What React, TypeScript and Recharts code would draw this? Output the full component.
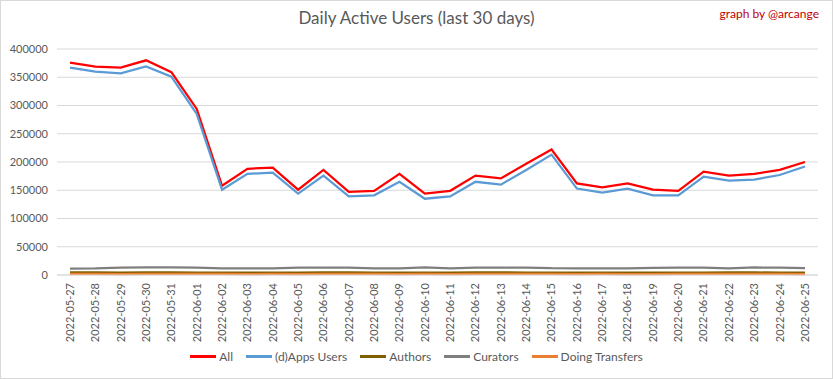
import { LineChart, Line, XAxis, YAxis, CartesianGrid } from 'recharts';

const dates = [
  '2022-05-27', '2022-05-28', '2022-05-29', '2022-05-30', '2022-05-31', '2022-06-01',
  '2022-06-02', '2022-06-03', '2022-06-04', '2022-06-05', '2022-06-06', '2022-06-07',
  '2022-06-08', '2022-06-09', '2022-06-10', '2022-06-11', '2022-06-12', '2022-06-13',
  '2022-06-14', '2022-06-15', '2022-06-16', '2022-06-17', '2022-06-18', '2022-06-19',
  '2022-06-20', '2022-06-21', '2022-06-22', '2022-06-23', '2022-06-24', '2022-06-25',
];

const allUsers = [
  376000, 369000, 367000, 380000, 359000, 294000, 158000, 188000, 190000, 151000,
  186000, 147000, 149000, 179000, 144000, 149000, 176000, 171000, 197000, 222000,
  162000, 155000, 162000, 151000, 149000, 183000, 176000, 179000, 186000, 200000,
];

const appsUsers = [
  367000, 360000, 357000, 369000, 351000, 285000, 151000, 179000, 181000, 144000,
  176000, 139000, 141000, 165000, 135000, 139000, 165000, 160000, 186000, 213000,
  153000, 146000, 153000, 141000, 141000, 174000, 167000, 169000, 177000, 192000,
];

const authors = [
  4600, 4500, 4200, 4700, 4600, 4400, 4300, 4400, 4200, 4100,
  4500, 4600, 4300, 4200, 4400, 4100, 4500, 4600, 4400, 4300,
  4200, 4300, 4100, 4000, 4400, 4200, 4600, 4500, 4300, 4200,
];

const curators = [
  11500, 11800, 13200, 13400, 13300, 13200, 11800, 11700, 11600, 13000,
  13200, 13100, 11900, 11800, 13300, 11900, 13000, 13200, 13100, 12000,
  11900, 11800, 11700, 12800, 13100, 13200, 11900, 13300, 13200, 12000,
];

const transfers = [
  1800, 1900, 1700, 2100, 2000, 1900, 1800, 1700, 1800, 1600,
  2000, 1900, 1800, 1700, 1900, 1600, 1800, 2000, 1900, 1800,
  1700, 1800, 1600, 1700, 1900, 1800, 2000, 1900, 1800, 1700,
];

const yTicks = [0, 50000, 100000, 150000, 200000, 250000, 300000, 350000, 400000];

const series = [
  { key: 'All', values: allUsers, color: '#ff0000' },
  { key: '(d)Apps Users', values: appsUsers, color: '#5b9bd5' },
  { key: 'Authors', values: authors, color: '#7f6000' },
  { key: 'Curators', values: curators, color: '#7f7f7f' },
  { key: 'Doing Transfers', values: transfers, color: '#ed7d31' },
];

const data = dates.map((d, i) => {
  const row: Record<string, string | number> = { date: d };
  series.forEach(s => { row[s.key] = s.values[i]; });
  return row;
});

const FONT = 'Lato, "Liberation Sans", sans-serif';
const TEXT = '#595959';

function DateTick({ x, y, payload }: any) {
  return (
    <g transform={`translate(${x},${y})`}>
      <text x={0} y={0} dy="0.35em" transform="rotate(-90)" textAnchor="end" fill={TEXT} fontSize={11} fontFamily={FONT}>
        {payload.value}
      </text>
    </g>
  );
}

function LegendRow() {
  return (
    <div style={{ position: 'absolute', top: 349, left: 0, width: 833, display: 'flex', justifyContent: 'center', gap: 13, fontFamily: FONT, fontSize: 12, color: TEXT }}>
      {series.map(s => (
        <div key={s.key} style={{ display: 'flex', alignItems: 'center', gap: 3 }}>
          <div style={{ width: 26, height: 2.5, background: s.color }} />
          <span>{s.key}</span>
        </div>
      ))}
    </div>
  );
}

export default function App() {
  return (
    <div style={{ position: 'absolute', left: 0, top: 0, width: 833, height: 379, background: '#fff' }}>
      <LineChart width={833} height={379} data={data} margin={{ top: 49, right: 15, left: 8, bottom: 40 }}>
        <CartesianGrid vertical={false} stroke="#d9d9d9" />
        <XAxis
          dataKey="date"
          interval={0}
          height={64}
          padding={{ left: 13, right: 13 }}
          tick={<DateTick />}
          tickLine={false}
          tickSize={0}
          tickMargin={8}
          stroke="#d9d9d9"
        />
        <YAxis
          domain={[0, 400000]}
          ticks={yTicks}
          width={49}
          axisLine={false}
          tickLine={false}
          tickSize={0}
          tickMargin={9}
          tick={{ fill: TEXT, fontSize: 11, fontFamily: FONT }}
        />
        {series.map(s => (
          <Line
            key={s.key}
            dataKey={s.key}
            stroke={s.color}
            strokeWidth={2.25}
            dot={false}
            isAnimationActive={false}
          />
        ))}
      </LineChart>
      <LegendRow />
      <div style={{ position: 'absolute', top: 7, left: 0, width: 833, textAlign: 'center', fontFamily: FONT, fontSize: 17, color: TEXT }}>
        Daily Active Users (last 30 days)
      </div>
      <div style={{ position: 'absolute', top: 6, right: 14, fontFamily: FONT, fontSize: 12, color: '#c00000' }}>
        graph by @arcange
      </div>
      <div style={{ position: 'absolute', inset: 0, border: '1px solid #d9d9d9', boxSizing: 'border-box', pointerEvents: 'none' }} />
    </div>
  );
}
